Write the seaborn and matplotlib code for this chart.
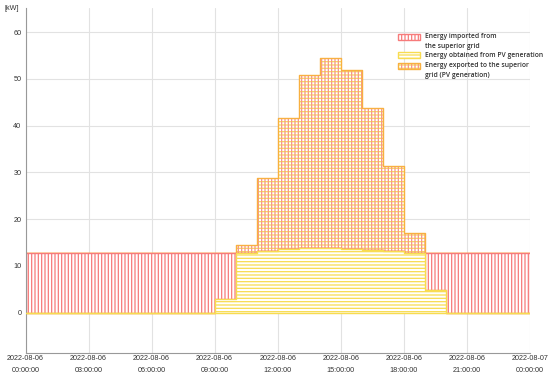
import numpy as np
import pandas as pd
import matplotlib
matplotlib.use("Agg")
import matplotlib.pyplot as plt
import matplotlib.patches as mpatches
from matplotlib.collections import PolyCollection
import seaborn as sns

# ---- data (hourly, kW) ----
hours = list(range(24))
pv_self = [0, 0, 0, 0, 0, 0, 0, 0, 0, 2.9, 12.8, 13.1, 13.5, 13.9, 13.9, 13.7,
           13.4, 13.1, 12.8, 4.8, 0, 0, 0, 0]
grid_import = [12.8, 12.8, 12.8, 12.8, 12.8, 12.8, 12.8, 12.8, 12.8, 9.9, 0, 0, 0,
               0, 0, 0, 0, 0, 0, 8.0, 12.8, 12.8, 12.8, 12.8]
grid_export = [0, 0, 0, 0, 0, 0, 0, 0, 0, 0, 1.7, 15.6, 28.2, 37.0, 40.6, 38.3,
               30.4, 18.3, 4.3, 0, 0, 0, 0, 0]
tick_hours = [0, 3, 6, 9, 12, 15, 18, 21, 24]
tick_labels = ["2022-08-06\n00:00:00", "2022-08-06\n03:00:00", "2022-08-06\n06:00:00",
               "2022-08-06\n09:00:00", "2022-08-06\n12:00:00", "2022-08-06\n15:00:00",
               "2022-08-06\n18:00:00", "2022-08-06\n21:00:00", "2022-08-07\n00:00:00"]
y_ticks = [0, 10, 20, 30, 40, 50, 60]
legend_labels = ["Energy imported from\nthe superior grid",
                 "Energy obtained from PV generation",
                 "Energy exported to the superior\ngrid (PV generation)"]

series = ["export", "import", "pv"]  # stack order: last is bottom
long = pd.concat([
    pd.DataFrame({"center": np.array(hours) + 0.5, "value": grid_export, "series": "export"}),
    pd.DataFrame({"center": np.array(hours) + 0.5, "value": grid_import, "series": "import"}),
    pd.DataFrame({"center": np.array(hours) + 0.5, "value": pv_self, "series": "pv"}),
], ignore_index=True)

RED = "#f77b7b"
YEL = "#f8dc50"
ORA_V = "#f7948a"
ORA_E = "#f8b040"

sns.set_theme(style="white")
plt.rcParams["hatch.linewidth"] = 0.9
fig = plt.figure(figsize=(5.5, 3.8), dpi=100)
ax = fig.add_axes([25.5 / 550, 1 - 352.7 / 380, (530 - 25.5) / 550, (352.7 - 8) / 380])

n_before = len(ax.collections)
sns.histplot(data=long, x="center", weights="value", hue="series", hue_order=series,
             multiple="stack", bins=24, binrange=(0, 24), element="step", fill=True,
             legend=False, ax=ax)
colls = list(ax.collections[n_before:])

# identify each layer from its own geometry
def top(c):
    return max(p.vertices[:, 1].max() for p in c.get_paths())
def top_at_midnight(c):
    vals = [p.vertices[p.vertices[:, 0] <= 1.0, 1] for p in c.get_paths()]
    vals = np.concatenate([v for v in vals if len(v)] or [np.array([0.0])])
    return vals.max()
c_exp = max(colls, key=top)
rest = [c for c in colls if c is not c_exp]
c_pv = min(rest, key=top_at_midnight)
c_imp = max(rest, key=top_at_midnight)

c_imp.set_facecolor("white")
c_imp.set_edgecolor(RED)
c_imp.set_hatch("|||||")
c_imp.set_linewidth(1.0)
c_imp.set_zorder(2)

c_pv.set_facecolor("white")
c_pv.set_edgecolor(YEL)
c_pv.set_hatch("-----")
c_pv.set_linewidth(1.0)
c_pv.set_zorder(3)

c_exp.set_facecolor("white")
c_exp.set_edgecolor(YEL)
c_exp.set_hatch("-----")
c_exp.set_linewidth(0)
c_exp.set_zorder(1.5)
exp_v = PolyCollection([p.vertices for p in c_exp.get_paths()], facecolor="none",
                       edgecolor=ORA_V, hatch="|||||", linewidth=0, zorder=1.6)
ax.add_collection(exp_v)
exp_o = PolyCollection([p.vertices for p in c_exp.get_paths()], facecolor="none",
                       edgecolor=ORA_E, linewidth=1.0, zorder=1.7)
ax.add_collection(exp_o)

ax.set_xlim(0, 24)
ax.set_ylim(-8.6, 65.2)
ax.set_xticks(tick_hours)
ax.set_xticklabels(tick_labels, fontsize=5.2, color="#333333", family="Liberation Sans")
for lbl in ax.get_xticklabels():
    lbl.set_linespacing(2.0)
ax.set_xticks(hours, minor=True)
ax.set_yticks(y_ticks)
ax.set_yticklabels([str(v) for v in y_ticks], fontsize=5.2, color="#333333",
                   family="Liberation Sans")
ax.set_yticks(np.arange(-5, 65, 10), minor=True)
ax.set_xlabel("")
ax.set_ylabel("")

ax.grid(True, which="major", color="#e2e2e2", linewidth=0.8)
ax.set_axisbelow(True)
ax.tick_params(axis="both", which="major", length=0, pad=3)
ax.tick_params(axis="x", which="major", pad=2)
ax.tick_params(axis="both", which="minor", direction="in", length=2.5, width=0.6,
               color="#bbbbbb")
for s in ["top", "right"]:
    ax.spines[s].set_visible(False)
for s in ["left", "bottom"]:
    ax.spines[s].set_color("#999999")
    ax.spines[s].set_linewidth(0.8)

fig.text(12 / 550, 1 - 8 / 380, "[kW]", fontsize=5.2, color="#333333",
         family="Liberation Sans", ha="center", va="center")

h_imp = mpatches.Patch(facecolor="white", edgecolor=RED, hatch="|||||", linewidth=1.0)
h_pv = mpatches.Patch(facecolor="white", edgecolor=YEL, hatch="-----", linewidth=1.0)
h_exp = (mpatches.Patch(facecolor="white", edgecolor=YEL, hatch="-----", linewidth=0),
         mpatches.Patch(fill=False, edgecolor=ORA_V, hatch="|||||", linewidth=0),
         mpatches.Patch(fill=False, edgecolor=ORA_E, linewidth=1.0))
leg = ax.legend([h_imp, h_pv, h_exp], legend_labels, loc="upper left",
                bbox_to_anchor=(398 / 550, 1 - 33 / 380), bbox_transform=fig.transFigure,
                frameon=False, borderpad=0, borderaxespad=0, handlelength=3.3,
                handleheight=0.88, handletextpad=0.72, labelspacing=0.42,
                prop={"family": "Open Sans", "weight": "semibold", "size": 4.85})
for t in leg.get_texts():
    t.set_color("#333333")
    t.set_linespacing(1.5)

# align handles of two-line entries with their first text line
for col in leg._legend_handle_box.get_children():
    for item in col.get_children():
        hb, tb = item.get_children()
        if "\n" in tb._text.get_text():
            for a in hb.get_children():
                if hasattr(a, "set_y"):
                    a.set_y(a.get_y() + 3.3)

fig.savefig("out.png", dpi=100)
